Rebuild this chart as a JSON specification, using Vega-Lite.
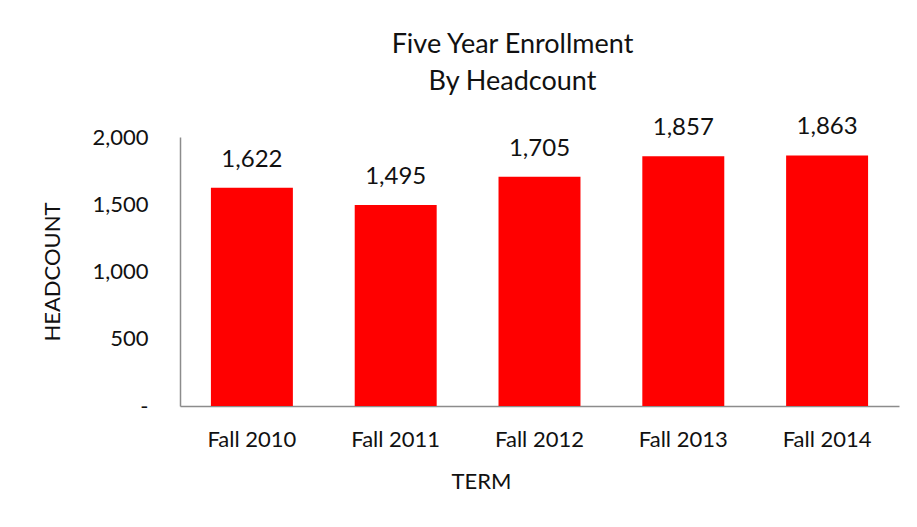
{
  "$schema": "https://vega.github.io/schema/vega-lite/v6.json",
  "autosize": "none",
  "width": 719,
  "height": 269,
  "padding": {"left": 180, "top": 137, "right": 18, "bottom": 121},
  "background": "white",
  "title": {
    "text": ["Five Year Enrollment", "By Headcount"],
    "anchor": "middle",
    "dx": -27,
    "offset": 19,
    "font": "Lato",
    "fontSize": 27,
    "fontWeight": "normal",
    "color": "#111",
    "lineHeight": 37
  },
  "data": {
    "values": [
      {"term": "Fall 2010", "headcount": 1622},
      {"term": "Fall 2011", "headcount": 1495},
      {"term": "Fall 2012", "headcount": 1705},
      {"term": "Fall 2013", "headcount": 1857},
      {"term": "Fall 2014", "headcount": 1863}
    ]
  },
  "encoding": {
    "x": {
      "field": "term",
      "type": "nominal",
      "sort": null,
      "scale": {"paddingInner": 0.43, "paddingOuter": 0.215},
      "axis": {
        "title": "TERM",
        "labelAngle": 0,
        "labelFont": "Lato",
        "labelFontSize": 22,
        "labelColor": "#111",
        "labelPadding": 23,
        "ticks": false,
        "domainColor": "#8c8c8c",
        "domainWidth": 1.5,
        "titleFont": "Lato",
        "titleFontSize": 22,
        "titleFontWeight": "normal",
        "titleColor": "#111",
        "titleX": 301,
        "titleY": 75,
        "titleAlign": "center",
        "titleBaseline": "middle"
      }
    },
    "y": {
      "field": "headcount",
      "type": "quantitative",
      "scale": {"domain": [0, 2000], "nice": false},
      "axis": {
        "title": "HEADCOUNT",
        "values": [0, 500, 1000, 1500, 2000],
        "labelExpr": "datum.value == 0 ? '-' : format(datum.value, ',')",
        "grid": false,
        "ticks": false,
        "labelFont": "Lato",
        "labelFontSize": 22,
        "labelColor": "#111",
        "labelPadding": 32,
        "domainColor": "#8c8c8c",
        "domainWidth": 1.5,
        "titleFont": "Lato",
        "titleFontSize": 22,
        "titleFontWeight": "normal",
        "titleColor": "#111",
        "titleAngle": -90,
        "titleX": -128,
        "titleY": 134.5,
        "titleAlign": "center",
        "titleBaseline": "middle"
      }
    }
  },
  "layer": [
    {"mark": {"type": "bar", "color": "#ff0000"}},
    {
      "mark": {"type": "text", "baseline": "alphabetic", "dy": -21, "font": "Lato", "fontSize": 24, "color": "#111"},
      "encoding": {"text": {"field": "headcount", "type": "quantitative", "format": ","}}
    }
  ],
  "config": {"view": {"stroke": null}}
}
